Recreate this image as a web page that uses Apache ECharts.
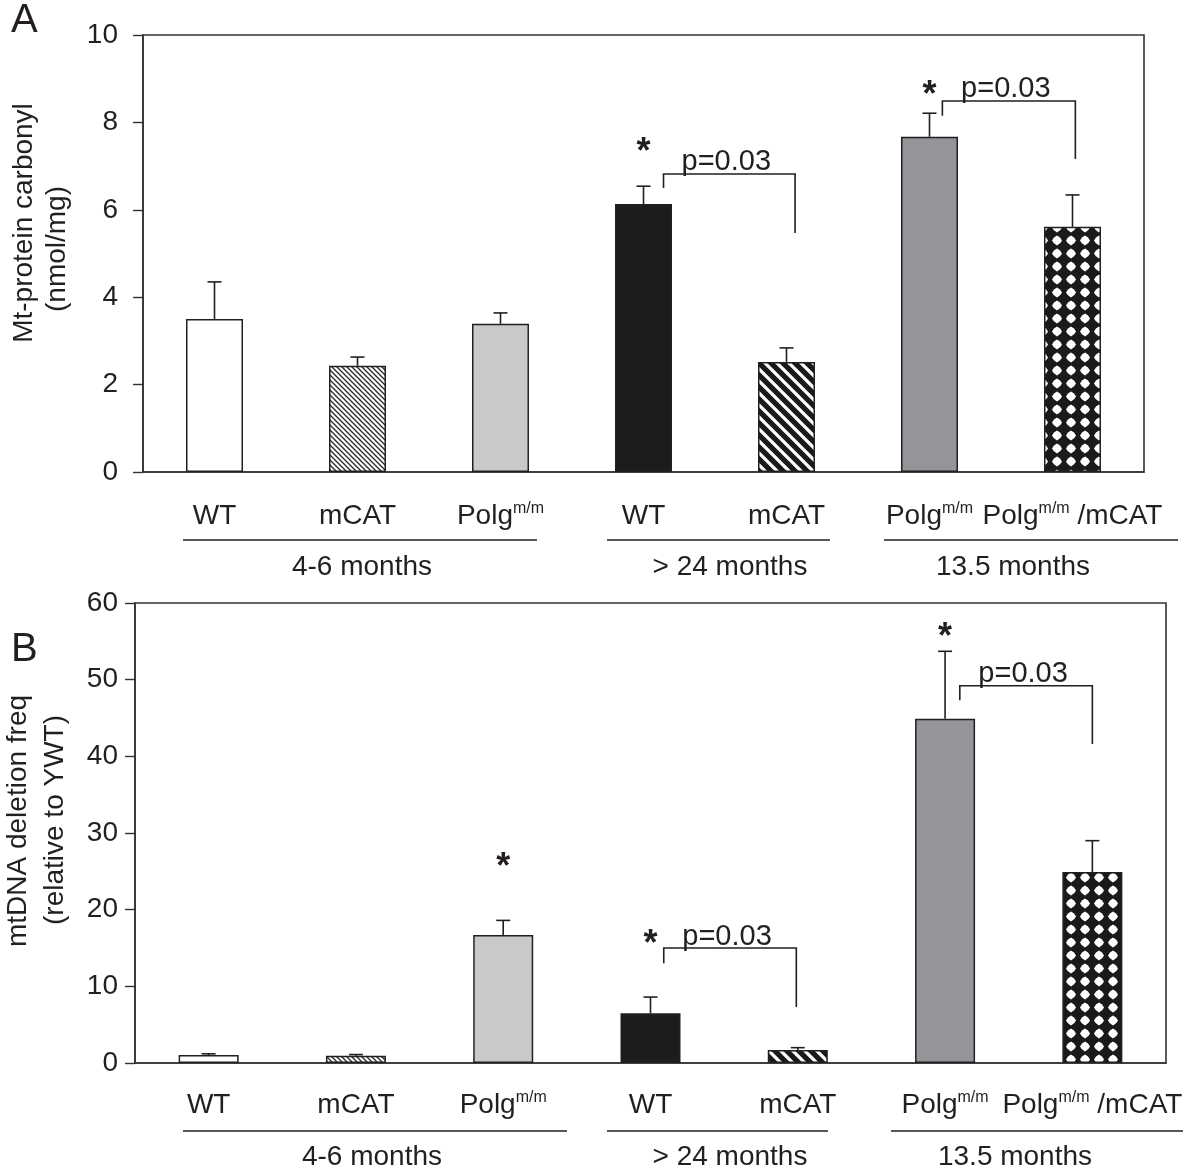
<!DOCTYPE html>
<html>
<head>
<meta charset="utf-8">
<script src="https://cdn.jsdelivr.net/npm/echarts@6/dist/echarts.min.js"></script>
<style>
  html, body { margin: 0; padding: 0; background: #fff; }
  #chart { width: 1200px; height: 1173px; }
</style>
</head>
<body>
<div id="chart"></div>
<script>
// ---------- DATA ----------
const categoryLabels = ['WT', 'mCAT', 'Polg^m/m', 'WT', 'mCAT', 'Polg^m/m', 'Polg^m/m /mCAT'];
const groupLabels = ['4-6 months', '> 24 months', '13.5 months'];

// Panel A: Mt-protein carbonyl (nmol/mg)
const valuesA = [3.50, 2.43, 3.39, 6.13, 2.52, 7.67, 5.61];
const errorsA = [0.85, 0.20, 0.25, 0.41, 0.32, 0.54, 0.73];
const ticksA = [0, 2, 4, 6, 8, 10];
// Panel B: mtDNA deletion freq (relative to YWT)
const valuesB = [1.05, 0.95, 16.7, 6.5, 1.7, 44.9, 24.9];
const errorsB = [0.15, 0.15, 1.9, 2.1, 0.3, 8.8, 4.1];
const ticksB = [0, 10, 20, 30, 40, 50, 60];

// significance annotations: [leftCategory, rightCategory, barLevel, leftLegEnd, rightLegEnd, text]
const bracketsA = [[3, 4, 6.82, 6.50, 5.47, 'p=0.03'], [5, 6, 8.49, 8.15, 7.16, 'p=0.03']];
const bracketsB = [[3, 4, 15.0, 13.0, 7.3, 'p=0.03'], [5, 6, 49.2, 47.3, 41.6, 'p=0.03']];
// asterisks: [category, level]
const starsA = [[3, 7.53], [5, 8.83]];
const starsB = [[2, 26.7], [3, 16.7], [5, 56.7]];

// ---------- STYLE ----------
const INK = '#231f20';
const FONT = '"Liberation Sans", Arial, Helvetica, sans-serif';
// bracket end x-offsets as fraction of band width (layout only)
const bracketOffsetsA = [[0.14, 0.06], [0.09, 0.02]];
const bracketOffsetsB = [[0.09, -0.01], [0.10, 0.0]];

function tile(w, h, draw) {
  const c = document.createElement('canvas');
  c.width = w; c.height = h;
  const ctx = c.getContext('2d');
  draw(ctx, w, h);
  return { image: c, repeat: 'repeat' };
}
function diagTile(s, lw, bg, fg) {
  return tile(s, s, (ctx) => {
    ctx.fillStyle = bg; ctx.fillRect(0, 0, s, s);
    ctx.strokeStyle = fg; ctx.lineWidth = lw; ctx.lineCap = 'square';
    for (let k = -1; k <= 1; k++) {
      ctx.beginPath(); ctx.moveTo(k * s, 0); ctx.lineTo(k * s + s, s); ctx.stroke();
    }
  });
}
const fineHatch = diagTile(5, 1.3, '#ffffff', '#2a2a2a');
const boldStripe = diagTile(12, 5.2, '#ffffff', '#1a1a1a');
const diamonds = tile(14, 13, (ctx, w, h) => {
  ctx.fillStyle = '#1a1a1a'; ctx.fillRect(0, 0, w, h);
  ctx.fillStyle = '#ffffff';
  ctx.beginPath();
  ctx.moveTo(7, 1.6);
  ctx.quadraticCurveTo(10.6, 3.0, 12.0, 6.5);
  ctx.quadraticCurveTo(10.6, 10.0, 7, 11.4);
  ctx.quadraticCurveTo(3.4, 10.0, 2.0, 6.5);
  ctx.quadraticCurveTo(3.4, 3.0, 7, 1.6);
  ctx.closePath(); ctx.fill();
});
const barFills = ['#ffffff', fineHatch, '#c8c9cb', '#1c1c1c', boldStripe, '#939598', diamonds];

function labelRich(s) {
  const p = s.split('^');
  if (p.length === 1) return '{n|' + s + '}';
  const sp = p[1].indexOf(' ');
  const sup = sp < 0 ? p[1] : p[1].slice(0, sp);
  const rest = sp < 0 ? '' : p[1].slice(sp);
  return '{n|' + p[0] + '}{s|' + sup + '}' + (rest ? '{n|' + rest + '}' : '');
}
const rich = {
  n: { fontFamily: FONT, fontSize: 28, color: INK, lineHeight: 30, verticalAlign: 'bottom' },
  s: { fontFamily: FONT, fontSize: 16, color: INK, lineHeight: 30, verticalAlign: 'bottom', padding: [0, 0, 13, 0] }
};

function errorSeries(gi, values, errors) {
  return {
    type: 'custom', xAxisIndex: gi, yAxisIndex: gi, z: 5, silent: true,
    data: values.map((v, i) => [i, v, v + errors[i]]),
    encode: { x: 0, y: [1, 2] },
    renderItem: (params, api) => {
      const b = api.coord([api.value(0), api.value(1)]);
      const t = api.coord([api.value(0), api.value(2)]);
      const st = { stroke: INK, lineWidth: 1.6 };
      return { type: 'group', children: [
        { type: 'line', shape: { x1: b[0], y1: b[1], x2: b[0], y2: t[1] }, style: st },
        { type: 'line', shape: { x1: b[0] - 7, y1: t[1], x2: b[0] + 7, y2: t[1] }, style: st }
      ] };
    }
  };
}
function bracketSeries(gi, brackets, offsets) {
  return {
    type: 'custom', xAxisIndex: gi, yAxisIndex: gi, z: 6, silent: true,
    data: brackets.map(b => [b[0], b[1], b[2], b[3], b[4]]),
    encode: { x: [0, 1], y: [2, 3, 4] },
    renderItem: (params, api) => {
      const band = api.size([1, 0])[0];
      const off = offsets[params.dataIndex];
      const l = api.coord([api.value(0), api.value(2)]);
      const r = api.coord([api.value(1), api.value(2)]);
      const x1 = l[0] + off[0] * band, x2 = r[0] + off[1] * band;
      const y = l[1];
      const yl = api.coord([api.value(0), api.value(3)])[1];
      const yr = api.coord([api.value(1), api.value(4)])[1];
      const st = { stroke: INK, lineWidth: 1.6, fill: null };
      return { type: 'group', children: [
        { type: 'polyline', shape: { points: [[x1, yl], [x1, y], [x2, y], [x2, yr]] }, style: st },
        { type: 'text', style: { text: brackets[params.dataIndex][5], x: (x1 + x2) / 2 - 3, y: y + 3,
          align: 'center', verticalAlign: 'bottom', font: '29px ' + FONT, fill: INK } }
      ] };
    }
  };
}
function starSeries(gi, stars) {
  return {
    type: 'custom', xAxisIndex: gi, yAxisIndex: gi, z: 6, silent: true,
    data: stars, encode: { x: 0, y: 1 },
    renderItem: (params, api) => {
      const p = api.coord([api.value(0), api.value(1)]);
      return { type: 'text', style: { text: '*', x: p[0], y: p[1] + 10, align: 'center',
        verticalAlign: 'middle', font: 'bold 36px ' + FONT, fill: INK } };
    }
  };
}

function xAxis(gi, margin) {
  return {
    type: 'category', gridIndex: gi, data: categoryLabels.map((c, i) => 'c' + i),
    axisLine: { lineStyle: { color: '#333', width: 1.6 } },
    axisTick: { show: false },
    axisLabel: { interval: 0, margin: margin, formatter: (v, i) => labelRich(categoryLabels[i]), rich: rich }
  };
}
function yAxis(gi, ticks, margin) {
  return {
    type: 'value', gridIndex: gi, min: ticks[0], max: ticks[ticks.length - 1],
    interval: ticks[1] - ticks[0],
    axisLine: { show: true, lineStyle: { color: '#333', width: 1.6 } },
    axisTick: { show: true, length: 10, lineStyle: { color: '#333', width: 1.4 } },
    splitLine: { show: false },
    axisLabel: { margin: margin, fontFamily: FONT, fontSize: 28, color: INK }
  };
}
function bars(gi, values, width) {
  return {
    type: 'bar', xAxisIndex: gi, yAxisIndex: gi, barWidth: width, z: 3,
    data: values.map((v, i) => ({ value: v, itemStyle: { color: barFills[i] } })),
    itemStyle: { borderColor: INK, borderWidth: 1.5 }
  };
}

// group rules & labels under the axes (layout)
function groupGraphics(lineY, textY, spans, centers) {
  const out = [];
  spans.forEach((s, i) => {
    out.push({ type: 'line', shape: { x1: s[0], y1: lineY, x2: s[1], y2: lineY }, style: { stroke: INK, lineWidth: 1.5 } });
    out.push({ type: 'text', x: centers[i], y: textY, style: { text: groupLabels[i], font: '28px ' + FONT, fill: INK, align: 'center', verticalAlign: 'middle' } });
  });
  return out;
}
function vtext(x, y, t, size) {
  return { type: 'text', x: x, y: y, rotation: Math.PI / 2,
    style: { text: t, font: size + 'px ' + FONT, fill: INK, align: 'center', verticalAlign: 'middle' } };
}

const chart = echarts.init(document.getElementById('chart'), null, { renderer: 'canvas' });
chart.setOption({
  animation: false,
  backgroundColor: '#ffffff',
  grid: [
    { left: 143, top: 35, width: 1001, height: 437, show: true, borderColor: '#333', borderWidth: 1.6 },
    { left: 135, top: 603, width: 1031, height: 460, show: true, borderColor: '#333', borderWidth: 1.6 }
  ],
  xAxis: [xAxis(0, 28), xAxis(1, 26)],
  yAxis: [yAxis(0, ticksA, 25), yAxis(1, ticksB, 17)],
  series: [
    bars(0, valuesA, 57), errorSeries(0, valuesA, errorsA), bracketSeries(0, bracketsA, bracketOffsetsA), starSeries(0, starsA),
    bars(1, valuesB, 60), errorSeries(1, valuesB, errorsB), bracketSeries(1, bracketsB, bracketOffsetsB), starSeries(1, starsB)
  ],
  graphic: [
    { type: 'text', x: 11, y: 1, style: { text: 'A', font: '40px ' + FONT, fill: INK } },
    { type: 'text', x: 11, y: 630, style: { text: 'B', font: '40px ' + FONT, fill: INK } },
    vtext(24, 223, 'Mt-protein carbonyl', 28),
    vtext(57, 249, '(nmol/mg)', 28),
    vtext(18, 821, 'mtDNA deletion freq', 28),
    vtext(55, 820, '(relative to YWT)', 28)
  ].concat(
    groupGraphics(540, 567, [[183, 537], [607, 830], [884, 1178]], [362, 730, 1013]),
    groupGraphics(1131, 1157, [[183, 567], [607, 828], [891, 1183]], [372, 730, 1015])
  )
});
</script>
</body>
</html>
